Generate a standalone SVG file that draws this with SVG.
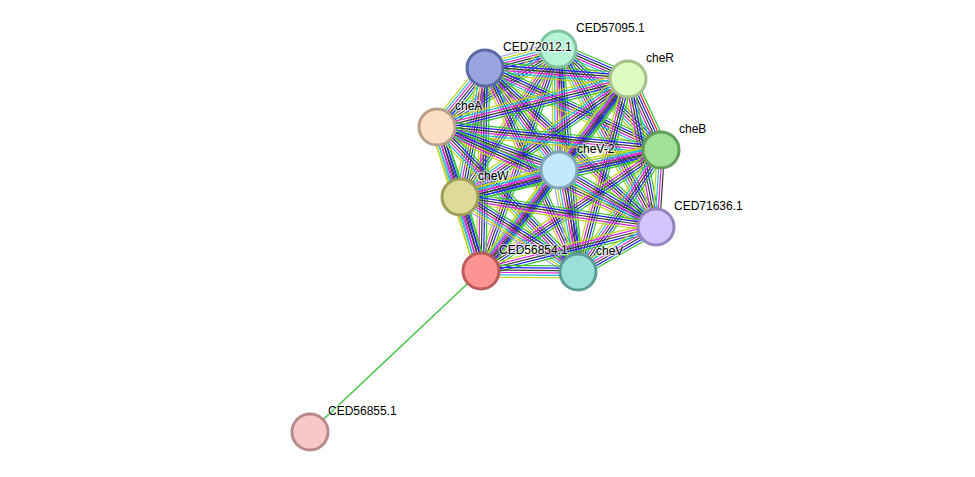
<svg xmlns="http://www.w3.org/2000/svg" xmlns:xlink="http://www.w3.org/1999/xlink" width="975" height="477" viewBox="0 0 975 477">
<style>
.n{stroke-width:3}
.l{font-family:"Liberation Sans",Arial,sans-serif;font-size:12px;fill:#000;stroke:#fff;stroke-width:2.5;stroke-opacity:0.6;paint-order:stroke;stroke-linejoin:round}
.e line{stroke-width:1.2;fill:none}
.g{stroke:#2fc42f}.r{stroke:#ee2020}.b{stroke:#2020f8}.k{stroke:#3a3a3a}.m{stroke:#dc22dc}.c{stroke:#22bcd8}.y{stroke:#c2d41c}.h{stroke:#a4a4f4}
</style>
<defs>
<g id="e6" class="e">
<line class="g" x1="0" y1="-6" x2="1" y2="-6"/>
<line class="b" x1="0" y1="-3.6" x2="1" y2="-3.6"/>
<line class="k" x1="0" y1="-1.2" x2="1" y2="-1.2"/>
<line class="m" x1="0" y1="1.2" x2="1" y2="1.2"/>
<line class="c" x1="0" y1="3.6" x2="1" y2="3.6"/>
<line class="y" x1="0" y1="6" x2="1" y2="6"/>
</g>
<g id="e5" class="e">
<line class="g" x1="0" y1="-4.8" x2="1" y2="-4.8"/>
<line class="b" x1="0" y1="-2.4" x2="1" y2="-2.4"/>
<line class="k" x1="0" y1="0" x2="1" y2="0"/>
<line class="m" x1="0" y1="2.4" x2="1" y2="2.4"/>
<line class="y" x1="0" y1="4.8" x2="1" y2="4.8"/>
</g>
<g id="e4" class="e">
<line class="k" x1="0" y1="-3.6" x2="1" y2="-3.6"/>
<line class="m" x1="0" y1="-1.2" x2="1" y2="-1.2"/>
<line class="c" x1="0" y1="1.2" x2="1" y2="1.2"/>
<line class="y" x1="0" y1="3.6" x2="1" y2="3.6"/>
</g>
<g id="e7h" class="e">
<line class="g" x1="0" y1="-7.2" x2="1" y2="-7.2"/>
<line class="b" x1="0" y1="-4.8" x2="1" y2="-4.8"/>
<line class="k" x1="0" y1="-2.4" x2="1" y2="-2.4"/>
<line class="m" x1="0" y1="0" x2="1" y2="0"/>
<line class="c" x1="0" y1="2.4" x2="1" y2="2.4"/>
<line class="y" x1="0" y1="4.8" x2="1" y2="4.8"/>
<line class="h" x1="0" y1="7.2" x2="1" y2="7.2"/>
</g>
<g id="e7r" class="e">
<line class="g" x1="0" y1="-7.2" x2="1" y2="-7.2"/>
<line class="r" x1="0" y1="-4.8" x2="1" y2="-4.8"/>
<line class="b" x1="0" y1="-2.4" x2="1" y2="-2.4"/>
<line class="k" x1="0" y1="0" x2="1" y2="0"/>
<line class="m" x1="0" y1="2.4" x2="1" y2="2.4"/>
<line class="c" x1="0" y1="4.8" x2="1" y2="4.8"/>
<line class="y" x1="0" y1="7.2" x2="1" y2="7.2"/>
</g>
</defs>
<rect width="975" height="477" fill="#fff"/>
<g id="edges">
<use href="#e7h" transform="translate(558 49) rotate(165.41) scale(75.43 1)"/>
<use href="#e6" transform="translate(558 49) rotate(23.20) scale(76.16 1)"/>
<use href="#e6" transform="translate(558 49) rotate(147.19) scale(143.96 1)"/>
<use href="#e6" transform="translate(558 49) rotate(44.44) scale(144.26 1)"/>
<use href="#e6" transform="translate(558 49) rotate(89.53) scale(121 1)"/>
<use href="#e5" transform="translate(558 49) rotate(123.51) scale(177.51 1)"/>
<use href="#e6" transform="translate(558 49) rotate(61.16) scale(203.19 1)"/>
<use href="#e5" transform="translate(558 49) rotate(109.13) scale(234.97 1)"/>
<use href="#e5" transform="translate(558 49) rotate(84.88) scale(223.9 1)"/>
<use href="#e6" transform="translate(485 68) rotate(4.40) scale(143.42 1)"/>
<use href="#e6" transform="translate(485 68) rotate(129.13) scale(76.06 1)"/>
<use href="#e6" transform="translate(485 68) rotate(24.98) scale(194.16 1)"/>
<use href="#e6" transform="translate(485 68) rotate(54.04) scale(126.02 1)"/>
<use href="#e6" transform="translate(485 68) rotate(100.97) scale(131.4 1)"/>
<use href="#e5" transform="translate(485 68) rotate(42.92) scale(233.5 1)"/>
<use href="#e5" transform="translate(485 68) rotate(91.13) scale(203.04 1)"/>
<use href="#e5" transform="translate(485 68) rotate(65.49) scale(224.2 1)"/>
<use href="#e6" transform="translate(628 79) rotate(165.89) scale(196.94 1)"/>
<use href="#e7r" transform="translate(628 79) rotate(65.07) scale(78.29 1)"/>
<use href="#e6" transform="translate(628 79) rotate(127.17) scale(114.2 1)"/>
<use href="#e6" transform="translate(628 79) rotate(144.92) scale(205.3 1)"/>
<use href="#e5" transform="translate(628 79) rotate(79.29) scale(150.63 1)"/>
<use href="#e5" transform="translate(628 79) rotate(127.44) scale(241.81 1)"/>
<use href="#e5" transform="translate(628 79) rotate(104.52) scale(199.37 1)"/>
<use href="#e6" transform="translate(437 127) rotate(5.86) scale(225.18 1)"/>
<use href="#e6" transform="translate(437 127) rotate(19.42) scale(129.36 1)"/>
<use href="#e6" transform="translate(437 127) rotate(71.81) scale(73.68 1)"/>
<use href="#e5" transform="translate(437 127) rotate(24.54) scale(240.75 1)"/>
<use href="#e6" transform="translate(437 127) rotate(73.01) scale(150.57 1)"/>
<use href="#e6" transform="translate(437 127) rotate(45.80) scale(202.25 1)"/>
<use href="#e6" transform="translate(661 150) rotate(168.91) scale(103.94 1)"/>
<use href="#e6" transform="translate(661 150) rotate(166.84) scale(206.42 1)"/>
<use href="#e4" transform="translate(661 150) rotate(93.72) scale(77.16 1)"/>
<use href="#e5" transform="translate(661 150) rotate(146.09) scale(216.89 1)"/>
<use href="#e6" transform="translate(661 150) rotate(124.23) scale(147.56 1)"/>
<use href="#e7h" transform="translate(559 170) rotate(164.74) scale(102.62 1)"/>
<use href="#e6" transform="translate(559 170) rotate(30.44) scale(112.51 1)"/>
<use href="#e6" transform="translate(559 170) rotate(127.68) scale(127.61 1)"/>
<use href="#e7h" transform="translate(559 170) rotate(79.45) scale(103.75 1)"/>
<use href="#e5" transform="translate(460 197) rotate(8.70) scale(198.28 1)"/>
<use href="#e6" transform="translate(460 197) rotate(74.16) scale(76.92 1)"/>
<use href="#e7h" transform="translate(460 197) rotate(32.44) scale(139.82 1)"/>
<use href="#e5" transform="translate(656 227) rotate(165.89) scale(180.45 1)"/>
<use href="#e6" transform="translate(656 227) rotate(150.02) scale(90.05 1)"/>
<use href="#e6" transform="translate(481 271) rotate(0.59) scale(97.01 1)"/>
<line x1="481" y1="271" x2="310" y2="432" stroke="#3cc43c" stroke-width="1.4"/>
</g>
<g id="node-CED57095.1"><circle class="n" cx="558" cy="49" r="18" fill="#b5f5d6" stroke="#80c49e"/><text class="l" x="576" y="32">CED57095.1</text></g>
<g id="node-CED72012.1"><circle class="n" cx="485" cy="68" r="18" fill="#99a3de" stroke="#5b6aa5"/><text class="l" x="503" y="51">CED72012.1</text></g>
<g id="node-cheR"><circle class="n" cx="628" cy="79" r="18" fill="#dcfcc4" stroke="#a4c08c"/><text class="l" x="646" y="62">cheR</text></g>
<g id="node-cheA"><circle class="n" cx="437" cy="127" r="18" fill="#fddfc5" stroke="#b8a088"/><text class="l" x="455" y="110">cheA</text></g>
<g id="node-cheB"><circle class="n" cx="661" cy="150" r="18" fill="#a1e096" stroke="#619e5a"/><text class="l" x="679" y="133">cheB</text></g>
<g id="node-cheV-2"><circle class="n" cx="559" cy="170" r="18" fill="#c5e9fc" stroke="#80a4b8"/><text class="l" x="577" y="153">cheV-2</text></g>
<g id="node-cheW"><circle class="n" cx="460" cy="197" r="18" fill="#dedb98" stroke="#a09c5a"/><text class="l" x="478" y="180">cheW</text></g>
<g id="node-CED71636.1"><circle class="n" cx="656" cy="227" r="18" fill="#d3c4fb" stroke="#9483c0"/><text class="l" x="674" y="210">CED71636.1</text></g>
<g id="node-CED56854.1"><circle class="n" cx="481" cy="271" r="18" fill="#fc9494" stroke="#bd5a5a"/><text class="l" x="499" y="254">CED56854.1</text></g>
<g id="node-cheV"><circle class="n" cx="578" cy="272" r="18" fill="#99e0d8" stroke="#5b9e97"/><text class="l" x="596" y="255">cheV</text></g>
<g id="node-CED56855.1"><circle class="n" cx="310" cy="432" r="18" fill="#f8c8c8" stroke="#b88a8a"/><text class="l" x="328" y="415">CED56855.1</text></g>
</svg>
